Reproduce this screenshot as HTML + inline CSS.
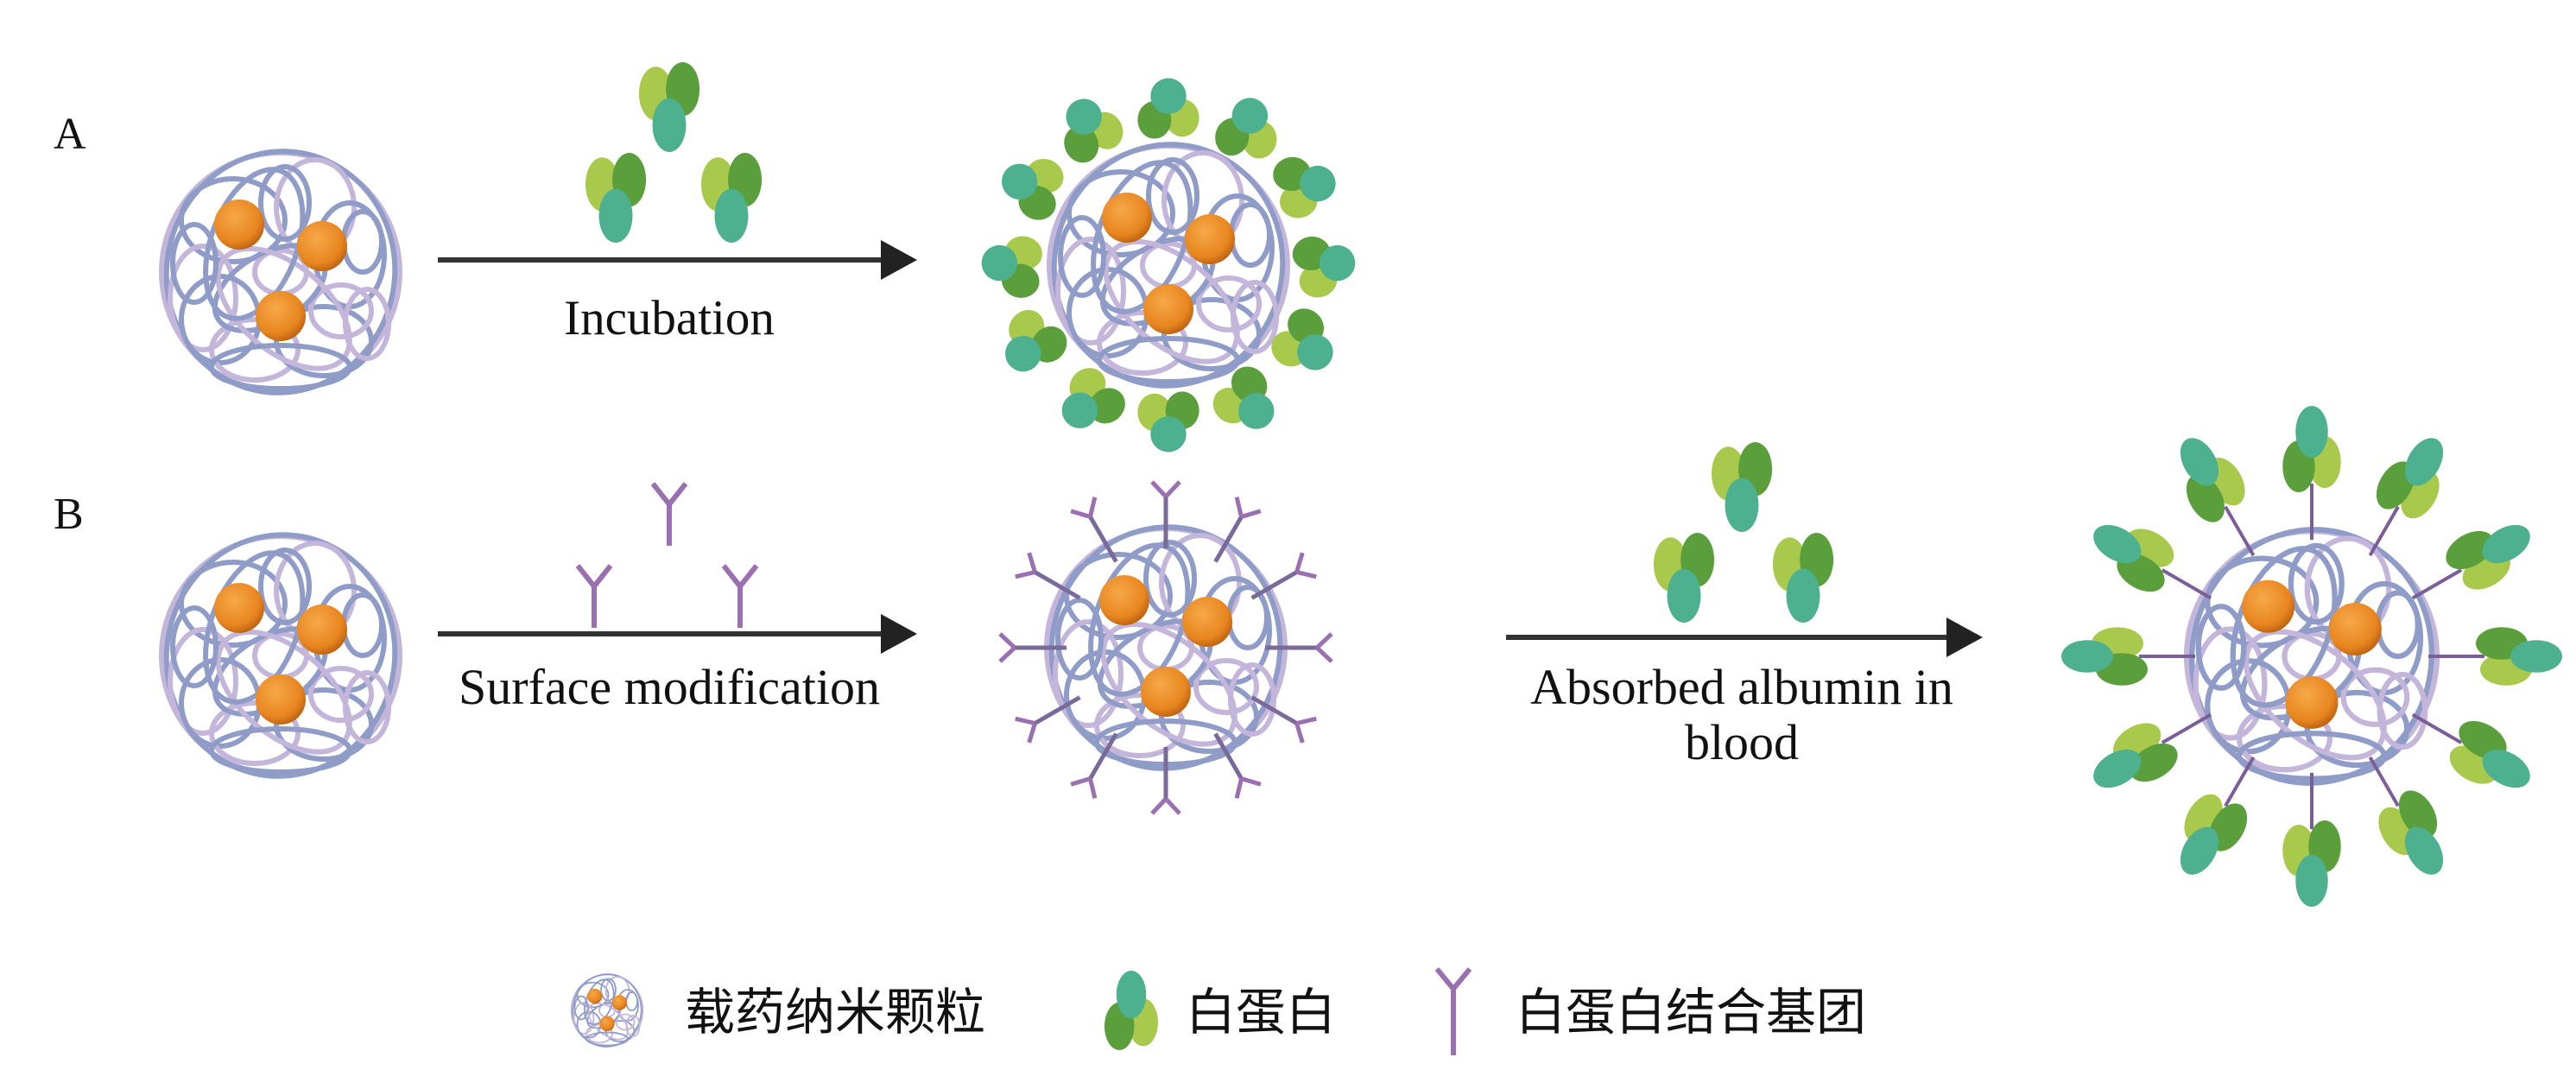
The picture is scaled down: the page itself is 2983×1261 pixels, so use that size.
<!DOCTYPE html>
<html><head><meta charset="utf-8"><style>
html,body{margin:0;padding:0;background:#fff;}
svg{display:block;}
text{font-family:"Liberation Serif","Noto Serif CJK SC",serif;fill:#111;}
.cn{font-family:"Liberation Sans","Noto Sans CJK SC",sans-serif;}
</style></head><body>
<svg width="2983" height="1261" viewBox="0 0 2983 1261" xmlns="http://www.w3.org/2000/svg">
<defs>
<radialGradient id="og" cx="0.4" cy="0.35" r="0.7"><stop offset="0" stop-color="#f6a84a"/><stop offset="0.7" stop-color="#e8861f"/><stop offset="1" stop-color="#b85d10"/></radialGradient>
<g id="np">
 <g fill="none" stroke-width="6">
  <circle r="138" stroke="#c4b6da"/>
  <ellipse rx="132" ry="140" stroke="#8e9cc7" transform="rotate(10)"/>
  <ellipse cx="-55" cy="-60" rx="60" ry="48" stroke="#8e9cc7"/>
  <ellipse cx="40" cy="-75" rx="45" ry="55" stroke="#c4b6da"/>
  <ellipse cx="5" cy="-80" rx="28" ry="42" stroke="#8e9cc7"/>
  <ellipse cx="80" cy="-20" rx="40" ry="60" stroke="#8e9cc7"/>
  <ellipse cx="95" cy="-35" rx="22" ry="35" stroke="#8e9cc7"/>
  <ellipse cx="-90" cy="30" rx="38" ry="60" stroke="#c4b6da"/>
  <ellipse cx="-70" cy="55" rx="45" ry="50" stroke="#8e9cc7"/>
  <ellipse cx="-30" cy="90" rx="50" ry="35" stroke="#c4b6da"/>
  <ellipse cx="50" cy="80" rx="55" ry="40" stroke="#8e9cc7"/>
  <ellipse cx="70" cy="45" rx="35" ry="30" stroke="#c4b6da"/>
  <ellipse cx="0" cy="0" rx="30" ry="25" stroke="#c4b6da"/>
  <ellipse cx="-20" cy="10" rx="70" ry="40" stroke="#8e9cc7" transform="rotate(-30)"/>
  <ellipse cx="30" cy="30" rx="90" ry="50" stroke="#c4b6da" transform="rotate(40)"/>
  <ellipse cx="-40" cy="-20" rx="50" ry="90" stroke="#8e9cc7" transform="rotate(20)"/>
  <ellipse cx="0" cy="110" rx="80" ry="25" stroke="#8e9cc7"/>
  <ellipse cx="-100" cy="-10" rx="25" ry="45" stroke="#8e9cc7"/>
  <ellipse cx="100" cy="60" rx="25" ry="40" stroke="#c4b6da"/>
 </g>
 <circle cx="-48" cy="-55" r="29" fill="url(#og)"/>
 <circle cx="48" cy="-30" r="29" fill="url(#og)"/>
 <circle cx="0" cy="51" r="29" fill="url(#og)"/>
</g>
<g id="alb">
 <ellipse cx="-12" cy="-12" rx="15" ry="24" fill="#a9c94c"/>
 <ellipse cx="12" cy="-16" rx="15" ry="24" fill="#5b9f3d"/>
 <ellipse cx="0" cy="16" rx="15" ry="24" fill="#4db08e"/>
</g>
<g id="albs">
 <ellipse cx="-14" cy="-10" rx="17" ry="19" fill="#a9c94c"/>
 <ellipse cx="14" cy="-12" rx="17" ry="19" fill="#5b9f3d"/>
 <ellipse cx="0" cy="12" rx="18" ry="18" fill="#4db08e"/>
</g>
<g id="yy" stroke="#9b70b0" stroke-width="5" fill="none">
 <line x1="0" y1="-115" x2="0" y2="-175" stroke="#7a6a9a"/>
 <path d="M0,-175 L-16,-192 M0,-175 L16,-192"/>
</g>
<g id="ys" stroke="#9b70b0" stroke-width="6" fill="none">
 <line x1="0" y1="0" x2="0" y2="-48"/>
 <path d="M0,-48 L-19,-72 M0,-48 L19,-72"/>
</g>
<g id="sa">
 <line x1="0" y1="-135" x2="0" y2="-200" stroke="#7a5e98" stroke-width="4"/>
 <use href="#alb" transform="translate(0,-240) rotate(180) scale(1.25)"/>
</g>
</defs>

<text x="62" y="172" font-size="52">A</text>
<text x="62" y="612" font-size="52">B</text>

<!-- Row A -->
<use href="#np" transform="translate(325,315)"/>
<use href="#alb" transform="translate(775,124) scale(1.3)"/>
<use href="#alb" transform="translate(713,229) scale(1.3)"/>
<use href="#alb" transform="translate(847,229) scale(1.3)"/>
<line x1="507" y1="301" x2="1025" y2="301" stroke="#333" stroke-width="6"/>
<polygon points="1020,278 1062,301 1020,324" fill="#222"/>
<text x="775" y="387" font-size="57" text-anchor="middle">Incubation</text>

<g transform="translate(1353,307)">
 <use href="#np"/>
 <use href="#albs" transform="rotate(0) translate(0,-182) rotate(180) scale(1.15)"/>
 <use href="#albs" transform="rotate(30) translate(0,-184) rotate(160) scale(1.15)"/>
 <use href="#albs" transform="rotate(60) translate(0,-184) rotate(200) scale(1.15)"/>
 <use href="#albs" transform="rotate(90) translate(0,-182) rotate(170) scale(1.15)"/>
 <use href="#albs" transform="rotate(120) translate(0,-184) rotate(190) scale(1.15)"/>
 <use href="#albs" transform="rotate(150) translate(0,-184) rotate(165) scale(1.15)"/>
 <use href="#albs" transform="rotate(180) translate(0,-182) rotate(180) scale(1.15)"/>
 <use href="#albs" transform="rotate(210) translate(0,-184) rotate(200) scale(1.15)"/>
 <use href="#albs" transform="rotate(240) translate(0,-184) rotate(160) scale(1.15)"/>
 <use href="#albs" transform="rotate(270) translate(0,-182) rotate(190) scale(1.15)"/>
 <use href="#albs" transform="rotate(300) translate(0,-184) rotate(170) scale(1.15)"/>
 <use href="#albs" transform="rotate(330) translate(0,-184) rotate(185) scale(1.15)"/>
</g>

<!-- Row B -->
<use href="#np" transform="translate(325,759)"/>
<use href="#ys" transform="translate(775,632)"/>
<use href="#ys" transform="translate(688,727)"/>
<use href="#ys" transform="translate(857,727)"/>
<line x1="507" y1="734" x2="1025" y2="734" stroke="#333" stroke-width="6"/>
<polygon points="1020,711 1062,734 1020,757" fill="#222"/>
<text x="775" y="815" font-size="58" text-anchor="middle">Surface modification</text>

<g transform="translate(1350,750)">
 <use href="#np"/>
 <use href="#yy" transform="rotate(0)"/>
 <use href="#yy" transform="rotate(30)"/>
 <use href="#yy" transform="rotate(60)"/>
 <use href="#yy" transform="rotate(90)"/>
 <use href="#yy" transform="rotate(120)"/>
 <use href="#yy" transform="rotate(150)"/>
 <use href="#yy" transform="rotate(180)"/>
 <use href="#yy" transform="rotate(210)"/>
 <use href="#yy" transform="rotate(240)"/>
 <use href="#yy" transform="rotate(270)"/>
 <use href="#yy" transform="rotate(300)"/>
 <use href="#yy" transform="rotate(330)"/>
</g>

<use href="#alb" transform="translate(2017,564) scale(1.3)"/>
<use href="#alb" transform="translate(1950,669) scale(1.3)"/>
<use href="#alb" transform="translate(2088,669) scale(1.3)"/>
<line x1="1744" y1="738" x2="2258" y2="738" stroke="#333" stroke-width="6"/>
<polygon points="2254,715 2296,738 2254,761" fill="#222"/>
<text x="2017" y="815" font-size="58" text-anchor="middle">Absorbed albumin in</text>
<text x="2017" y="879" font-size="58" text-anchor="middle">blood</text>

<g transform="translate(2677,760)">
 <use href="#np" transform="scale(1.05)"/>
 <use href="#sa" transform="rotate(0)"/>
 <use href="#sa" transform="rotate(30)"/>
 <use href="#sa" transform="rotate(60)"/>
 <use href="#sa" transform="rotate(90)"/>
 <use href="#sa" transform="rotate(120)"/>
 <use href="#sa" transform="rotate(150)"/>
 <use href="#sa" transform="rotate(180)"/>
 <use href="#sa" transform="rotate(210)"/>
 <use href="#sa" transform="rotate(240)"/>
 <use href="#sa" transform="rotate(270)"/>
 <use href="#sa" transform="rotate(300)"/>
 <use href="#sa" transform="rotate(330)"/>
</g>

<!-- Legend -->
<use href="#np" transform="translate(703,1170) scale(0.3)"/>
<text class="cn" x="793" y="1192" font-size="58">载药纳米颗粒</text>
<use href="#alb" transform="translate(1310,1170) rotate(180) scale(1.15)"/>
<text class="cn" x="1373" y="1192" font-size="58">白蛋白</text>
<g stroke="#9b70b0" stroke-width="6" fill="none">
 <line x1="1683" y1="1145" x2="1683" y2="1222"/>
 <path d="M1683,1145 L1664,1122 M1683,1145 L1702,1122"/>
</g>
<text class="cn" x="1755" y="1192" font-size="58">白蛋白结合基团</text>
</svg>
</body></html>
